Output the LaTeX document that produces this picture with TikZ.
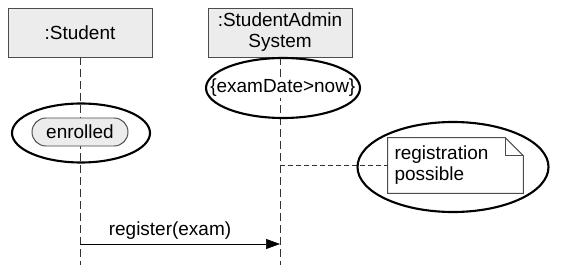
\documentclass[tikz,border=0pt]{standalone}
\usepackage{fontspec}
\setmainfont{Liberation Sans}
\usepackage{tikz}
\usetikzlibrary{arrows.meta,positioning,shapes.geometric,calc}

\begin{document}
\begin{tikzpicture}[
  obj/.style={draw=gray!60!black, fill=gray!15, minimum width=3.6cm, minimum height=1.225cm,
              align=center, font=\fontsize{13.5}{15}\selectfont, inner sep=1pt, line width=0.7pt},
  life/.style={draw=black!80, dash pattern=on 0.2cm off 0.1cm},
  hilite/.style={draw=black, line width=1.5pt, ellipse, inner sep=0pt},
  txt/.style={font=\fontsize{13.5}{15}\selectfont},
  arr/.style={-{Triangle[length=0.35cm, width=0.25cm]}, black},
]
\useasboundingbox (0,0) rectangle (14.475,6.75);
% lifeline heads
\node[obj] (stu) at (2.0,5.9375) {:Student};
\node[obj] (sys) at (7.0,5.9375) {:StudentAdmin\\System};
\coordinate (stu-end) at (2.0,0.125);
\coordinate (sys-end) at (7.0,0.125);
\draw[life] (stu) -- (stu-end);
\draw[life] (sys) -- (sys-end);

% state invariant and constraint
\node[txt, draw=gray!60!black, fill=gray!15, rounded corners=0.35cm, line width=0.7pt,
      minimum width=2.4cm, minimum height=0.7cm] (enr) at (2.0,3.45) {enrolled};
\node[txt, fill=white, inner sep=0.5pt] (cons) at (7.07,4.55) {\{examDate>now\}};

% note
\node[txt, align=left, minimum width=3.375cm, minimum height=1.375cm,
      text width=3.05cm] (note) at (11.3875,2.6125) {registration\\possible};
\draw[draw=gray!60!black, line width=0.7pt]
  (note.north west) -- ($(note.north east)+(-0.45,0)$) -- ($(note.north east)+(0,-0.45)$)
  -- (note.south east) -- (note.south west) -- cycle;
\draw[draw=gray!60!black, line width=0.7pt] ($(note.north east)+(-0.45,0)$)
  -- ($(note.north east)+(-0.45,-0.45)$) -- ($(note.north east)+(0,-0.45)$);
\coordinate (sys-note) at (7.0,2.625);
\draw[black!80, dash pattern=on 0.12cm off 0.08cm] (sys-note) -- (note.west |- sys-note);

% message
\coordinate (stu-msg) at (2.0,0.65);
\coordinate (sys-msg) at (7.0,0.65);
\draw[arr] (stu-msg) -- node[above, txt, pos=0.45] {register(exam)} (sys-msg);

% highlight ellipses
\node[hilite, minimum width=3.45cm, minimum height=1.475cm] (h-enr) at (2.025,3.425) {};
\node[hilite, minimum width=3.85cm, minimum height=1.5cm] (h-cons) at (7.075,4.55) {};
\node[hilite, minimum width=4.775cm, minimum height=2.25cm] (h-note) at (11.325,2.575) {};
\end{tikzpicture}
\end{document}
